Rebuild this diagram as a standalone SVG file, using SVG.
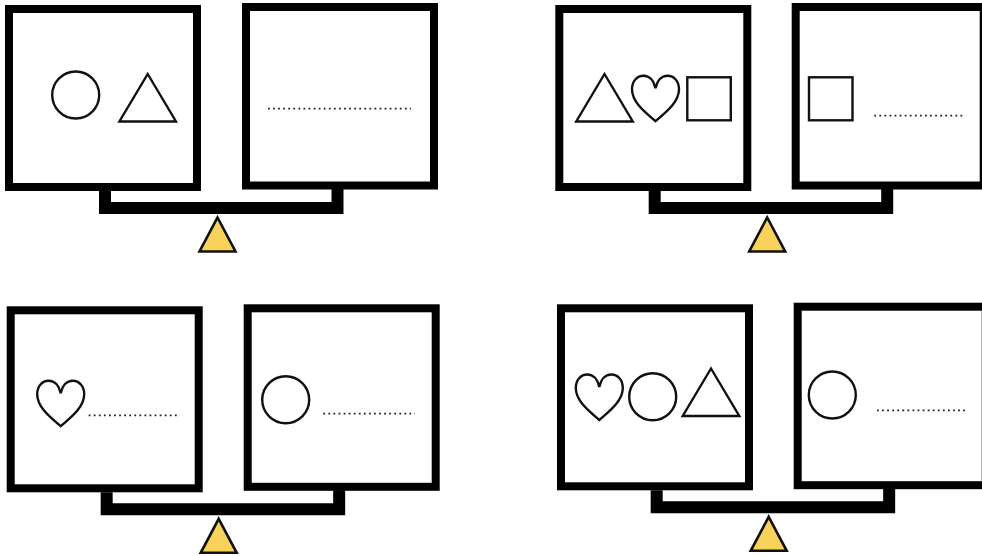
<svg xmlns="http://www.w3.org/2000/svg" xmlns:xlink="http://www.w3.org/1999/xlink" width="982" height="556" viewBox="0 0 982 556">
<style>
.pan{fill:#fff;stroke:#000;stroke-width:8}
.beam{fill:none;stroke:#000;stroke-width:12;stroke-linejoin:miter}
.sh{fill:none;stroke:#111;stroke-width:2.4}
.dots{fill:none;stroke:#222;stroke-width:1.8;stroke-dasharray:1.8 3.27}
.ful{fill:#f9d25c;stroke:#111;stroke-width:2.6}
</style>
<defs>
<path id="heart" d="M0,46.500C-9,38.500-23.500,28-23.500,14.500C-23.500,6.500-18.500,1-12,1C-6,1-1.500,6 0,13.500C1.500,6 6,1 12,1C18.500,1 23.500,6.500 23.500,14.500C23.500,28 9,38.500 0,46.500Z"/>
<path id="tri" d="M0,2.500L28.300,50H-28.300Z"/>
<path id="fulcrum" d="M217.500,217.500L235.500,251.500H199.500Z"/>
<path id="lever" d="M105,191V208H337.500V189"/>
</defs>
<rect width="982" height="556" fill="#fff"/>
<g id="connectors">
<use class="beam" xlink:href="#lever" href="#lever"/>
<use class="beam" xlink:href="#lever" href="#lever" x="549.700"/>
<use class="beam" xlink:href="#lever" href="#lever" x="1.670" y="301.330"/>
<use class="beam" xlink:href="#lever" href="#lever" x="551.670" y="299.330"/>
</g>
<g id="scale-1-left"><rect class="pan" x="9" y="9" width="188" height="178"/>
<circle class="sh" cx="75.700" cy="95" r="23.500"/><use class="sh" xlink:href="#tri" href="#tri" x="147.700" y="71.500"/></g>
<g id="scale-1-right"><rect class="pan" x="246" y="7" width="188" height="178.500"/>
<line class="dots" x1="268" y1="108.700" x2="411" y2="108.700"/></g>
<g id="scale-1-fulcrum"><use class="ful" xlink:href="#fulcrum" href="#fulcrum"/></g>
<g id="scale-2-left"><rect class="pan" x="559.300" y="9" width="188" height="178"/>
<use class="sh" xlink:href="#tri" href="#tri" x="604.500" y="71.500"/><use class="sh" xlink:href="#heart" href="#heart" x="655.500" y="74.700"/><rect class="sh" x="687.300" y="77.300" width="43.500" height="43"/></g>
<g id="scale-2-right"><rect class="pan" x="795.700" y="7" width="188" height="178.500"/>
<rect class="sh" x="809" y="77.300" width="43.500" height="43"/><line class="dots" x1="874.300" y1="115.700" x2="965" y2="115.700"/></g>
<g id="scale-2-fulcrum"><use class="ful" xlink:href="#fulcrum" href="#fulcrum" x="549.700"/></g>
<g id="scale-3-left"><rect class="pan" x="10.700" y="310.300" width="188" height="178"/>
<use class="sh" xlink:href="#heart" href="#heart" x="60.700" y="379.700"/><line class="dots" x1="88.700" y1="415.300" x2="180" y2="415.300"/></g>
<g id="scale-3-right"><rect class="pan" x="247.700" y="308.300" width="188" height="178.500"/>
<circle class="sh" cx="285.700" cy="399.700" r="23.500"/><line class="dots" x1="323.300" y1="413.700" x2="415" y2="413.700"/></g>
<g id="scale-3-fulcrum"><use class="ful" xlink:href="#fulcrum" href="#fulcrum" x="1.200" y="301.300"/></g>
<g id="scale-4-left"><rect class="pan" x="561" y="308.300" width="188" height="178"/>
<use class="sh" xlink:href="#heart" href="#heart" x="599.300" y="373.500"/><circle class="sh" cx="652.700" cy="396.700" r="23.500"/><use class="sh" xlink:href="#tri" href="#tri" x="711" y="366"/></g>
<g id="scale-4-right"><rect class="pan" x="797.700" y="306.700" width="188" height="178.500"/>
<circle class="sh" cx="832.300" cy="395" r="23.500"/><line class="dots" x1="877" y1="410.300" x2="968" y2="410.300"/></g>
<g id="scale-4-fulcrum"><use class="ful" xlink:href="#fulcrum" href="#fulcrum" x="551.200" y="299.300"/></g>
</svg>
